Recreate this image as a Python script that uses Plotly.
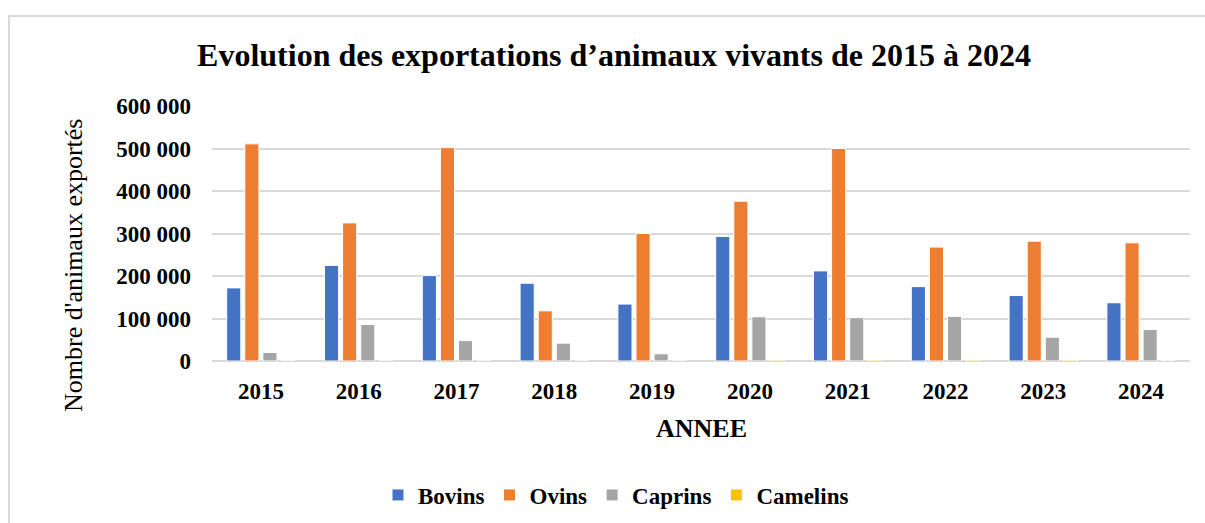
import plotly.graph_objects as go

years = ["2015", "2016", "2017", "2018", "2019", "2020", "2021", "2022", "2023", "2024"]
bovins = [172000, 225000, 201000, 183000, 134000, 293000, 212000, 175000, 154000, 137000]
ovins = [511000, 325000, 502000, 118000, 300000, 376000, 500000, 268000, 282000, 278000]
caprins = [20000, 86000, 48000, 42000, 17000, 104000, 102000, 105000, 56000, 74000]
camelins = [0, 0, 0, 0, 0, 2500, 2500, 2500, 2500, 0]

series = [
    ("Bovins", bovins, "#4472C4"),
    ("Ovins", ovins, "#ED7D31"),
    ("Caprins", caprins, "#A5A5A5"),
    ("Camelins", camelins, "#FFC000"),
]

FONT = "Liberation Serif"

fig = go.Figure()
for name, vals, color in series:
    fig.add_trace(go.Bar(
        x=years, y=vals, name=name,
        marker=dict(color=color, line=dict(color="white", width=1)),
    ))

W, H = 1205, 523
L, R, T, B = 212, 15, 106, 162
pw = W - L - R
ph = H - T - B

def px_x(p):
    return (p - L) / pw

def px_y(p):
    return (H - B - p) / ph

bold23 = dict(family=FONT, size=23, color="black", weight="bold")

fig.update_layout(
    width=W, height=H,
    margin=dict(l=L, r=R, t=T, b=B, pad=0, autoexpand=False),
    paper_bgcolor="white", plot_bgcolor="white",
    separators=", ",
    barmode="group", bargap=0.26, bargroupgap=0.22,
    font=dict(family=FONT, color="black"),
    title=dict(
        text="<b>Evolution des exportations d’animaux vivants de 2015 à 2024</b>",
        font=dict(family=FONT, size=32, color="black"),
        x=614 / W, xref="container", xanchor="center",
        y=1 - 55 / H, yref="container", yanchor="middle",
    ),
    showlegend=True,
    legend=dict(
        orientation="h", x=px_x(616), xanchor="center",
        y=px_y(495), yanchor="middle",
        font=bold23,
        itemwidth=30, traceorder="normal",
    ),
    xaxis=dict(
        showgrid=False, showline=False, ticks="",
        tickfont=bold23, automargin=False,
        ticklabelstandoff=14,
    ),
    yaxis=dict(
        range=[0, 600000], dtick=100000, tickformat=",d",
        showgrid=True, gridcolor="#D9D9D9", gridwidth=1.5,
        zeroline=True, zerolinecolor="#D9D9D9", zerolinewidth=1.5,
        showline=False, ticks="", automargin=False,
        tickfont=bold23,
        ticklabelstandoff=20,
    ),
    shapes=[dict(
        type="rect", xref="paper", yref="paper",
        x0=px_x(9), x1=px_x(1215), y0=px_y(540), y1=px_y(16),
        line=dict(color="#D9D9D9", width=2), fillcolor="rgba(0,0,0,0)",
        layer="below",
    )],
    annotations=[
        dict(text="<b>ANNEE</b>", xref="paper", yref="paper",
             x=0.5, y=px_y(428), xanchor="center", yanchor="middle",
             showarrow=False, font=dict(family=FONT, size=26, color="black")),
        dict(text="Nombre d'animaux exportés", xref="paper", yref="paper",
             x=px_x(73), y=px_y(265), xanchor="center", yanchor="middle",
             textangle=-90, showarrow=False,
             font=dict(family=FONT, size=26, color="black")),
    ],
)

fig.write_html("out.html", config={"displayModeBar": False},
               post_script="document.body.style.margin='0';")
